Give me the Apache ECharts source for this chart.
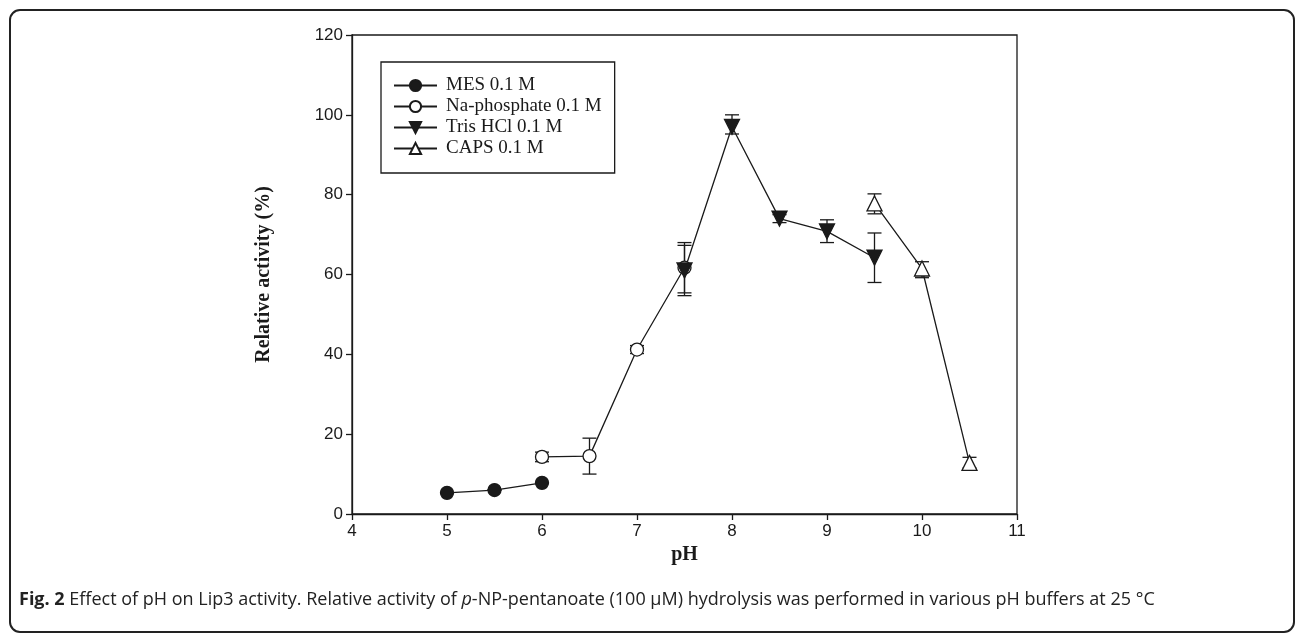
<!DOCTYPE html>
<html>
<head>
<meta charset="utf-8">
<script src="https://cdn.jsdelivr.net/npm/echarts@6/dist/echarts.min.js"></script>
<style>
html,body{margin:0;padding:0;background:#fff;}
#chart{width:1295px;height:634px;}
</style>
</head>
<body>
<div id="chart"></div>
<script>
// ---- Data ----
const xTicks = [4, 5, 6, 7, 8, 9, 10, 11];
const yTicks = [0, 20, 40, 60, 80, 100, 120];

const mesPH = [5, 5.5, 6];
const mesVal = [5.3, 6.0, 7.8];
const mesLow = [5.3, 6.0, 7.8];
const mesHigh = [5.3, 6.0, 7.8];

const naPH = [6, 6.5, 7, 7.5];
const naVal = [14.3, 14.5, 41.2, 61.7];
const naLow = [13.1, 10.0, 40.2, 55.4];
const naHigh = [15.5, 19.0, 42.2, 68.0];

const trisPH = [7.5, 8, 8.5, 9, 9.5];
const trisVal = [61.0, 97.0, 74.0, 70.8, 64.2];
const trisLow = [54.7, 95.2, 73.0, 68.0, 58.0];
const trisHigh = [67.3, 100.0, 75.0, 73.7, 70.4];

const capsPH = [9.5, 10, 10.5];
const capsVal = [77.8, 61.5, 12.8];
const capsLow = [75.2, 59.2, 11.5];
const capsHigh = [80.2, 63.2, 14.2];

const seriesNames = ['MES 0.1 M', 'Na-phosphate 0.1 M', 'Tris HCl 0.1 M', 'CAPS 0.1 M'];
const captionBold = 'Fig. 2';
const captionA = ' Effect of pH on Lip3 activity. Relative activity of ';
const captionItalic = 'p';
const captionB = '-NP-pentanoate (100 μM) hydrolysis was performed in various pH buffers at 25 °C';

// ---- Build ----
const INK = '#1a1a1a';
function pts(xs, ys) { return xs.map((x, i) => [x, ys[i]]); }
function errData(xs, lo, hi) { return xs.map((x, i) => [x, lo[i], hi[i]]); }

function errSeries(xs, lo, hi) {
  return {
    type: 'custom',
    data: errData(xs, lo, hi),
    z: 1,
    silent: true,
    renderItem: function (params, api) {
      const x = api.value(0);
      const p1 = api.coord([x, api.value(1)]);
      const p2 = api.coord([x, api.value(2)]);
      const hw = 7;
      const st = { stroke: INK, lineWidth: 1.3 };
      return {
        type: 'group',
        children: [
          { type: 'line', shape: { x1: p1[0], y1: p1[1], x2: p2[0], y2: p2[1] }, style: st },
          { type: 'line', shape: { x1: p1[0] - hw, y1: p1[1], x2: p1[0] + hw, y2: p1[1] }, style: st },
          { type: 'line', shape: { x1: p2[0] - hw, y1: p2[1], x2: p2[0] + hw, y2: p2[1] }, style: st }
        ]
      };
    }
  };
}

function lineSeries(name, xs, ys, symbol, rotate, size, filled) {
  return {
    name: name,
    type: 'line',
    data: pts(xs, ys),
    symbol: symbol,
    symbolRotate: rotate,
    symbolSize: size,
    showAllSymbol: true,
    z: 3,
    lineStyle: { color: INK, width: 1.3 },
    itemStyle: { color: filled ? INK : '#fff', borderColor: INK, borderWidth: 1.3 },
    emphasis: { disabled: true }
  };
}

const chart = echarts.init(document.getElementById('chart'));
const option = {
  animation: false,
  backgroundColor: '#fff',
  grid: { left: 352, top: 35, right: 278, bottom: 120, show: true, borderColor: INK, borderWidth: 1.3, backgroundColor: 'transparent' },
  legend: {
    data: seriesNames,
    orient: 'vertical',
    left: 381, top: 62,
    padding: [13, 13, 14, 12],
    itemWidth: 43, itemHeight: 14, itemGap: 0,
    borderColor: INK, borderWidth: 1.3,
    textStyle: { fontFamily: 'Liberation Serif', fontSize: 19, lineHeight: 21, color: INK, padding: [0, 0, 0, 4] },
    selectedMode: false
  },
  xAxis: {
    type: 'value', min: 4, max: 11, interval: 1,
    name: 'pH', nameLocation: 'middle', nameGap: 26,
    nameTextStyle: { fontFamily: 'Liberation Serif', fontWeight: 'bold', fontSize: 20, color: INK },
    axisLine: { show: true, lineStyle: { color: INK, width: 1.3 } },
    axisTick: { show: true, inside: false, length: 6, lineStyle: { color: INK, width: 1.3 } },
    axisLabel: { fontFamily: 'Liberation Sans', fontSize: 17, color: INK, margin: 9,
      formatter: v => xTicks.includes(v) ? String(v) : '' },
    splitLine: { show: false }
  },
  yAxis: {
    type: 'value', min: 0, max: 120, interval: 20,
    name: 'Relative activity (%)', nameLocation: 'middle', nameGap: 78,
    nameTextStyle: { fontFamily: 'Liberation Serif', fontWeight: 'bold', fontSize: 20, color: INK },
    axisLine: { show: true, lineStyle: { color: INK, width: 1.3 } },
    axisTick: { show: true, inside: false, length: 6, lineStyle: { color: INK, width: 1.3 } },
    axisLabel: { fontFamily: 'Liberation Sans', fontSize: 17, color: INK, margin: 9,
      formatter: v => yTicks.includes(v) ? String(v) : '' },
    splitLine: { show: false }
  },
  graphic: [
    { type: 'rect', left: 9, top: 9, z: -1,
      shape: { width: 1284, height: 622, r: 10 },
      style: { fill: 'transparent', stroke: '#222', lineWidth: 2 } },
    { type: 'text', left: 19, top: 591,
      style: {
        text: '{b|' + captionBold + '}{n|' + captionA + '}{i|' + captionItalic + '}{n|' + captionB + '}',
        rich: {
          b: { fontFamily: 'Open Sans', fontWeight: 'bold', fontSize: 18, fill: '#222' },
          n: { fontFamily: 'Open Sans', fontSize: 18, fill: '#222' },
          i: { fontFamily: 'Open Sans', fontStyle: 'italic', fontSize: 18, fill: '#222' }
        }
      } }
  ],
  series: [
    errSeries(mesPH, mesLow, mesHigh),
    errSeries(naPH, naLow, naHigh),
    errSeries(trisPH, trisLow, trisHigh),
    errSeries(capsPH, capsLow, capsHigh),
    lineSeries(seriesNames[0], mesPH, mesVal, 'circle', 0, 13, true),
    lineSeries(seriesNames[1], naPH, naVal, 'circle', 0, 13, false),
    lineSeries(seriesNames[2], trisPH, trisVal, 'triangle', 180, 15, true),
    lineSeries(seriesNames[3], capsPH, capsVal, 'triangle', 0, 15, false)
  ]
};
chart.setOption(option);
</script>
</body>
</html>
